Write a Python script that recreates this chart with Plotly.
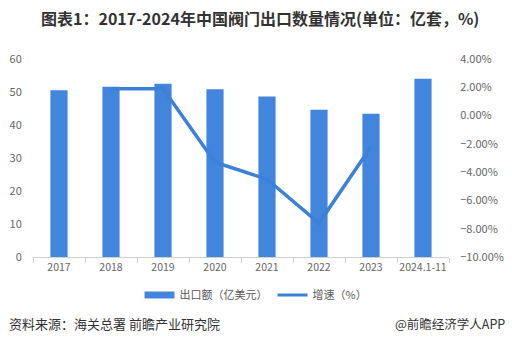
import plotly.graph_objects as go

categories = ["2017", "2018", "2019", "2020", "2021", "2022", "2023", "2024.1-11"]
export_volume = [50.5, 51.6, 52.5, 50.8, 48.6, 44.6, 43.4, 54.0]
growth_rate = [None, 1.9, 1.9, -3.3, -4.5, -7.6, -2.2, None]

bar_color = "#4285dc"
line_color = "#3d80d8"
font_cn = "Noto Sans CJK SC"

fig = go.Figure()
fig.add_trace(go.Bar(
    x=categories, y=export_volume, name="出口额（亿美元）",
    marker=dict(color=bar_color, line=dict(width=0)), width=0.33,
    showlegend=False, yaxis="y",
))
fig.add_trace(go.Scatter(
    x=categories, y=growth_rate, name="增速（%）", mode="lines",
    line=dict(color=line_color, width=3.5), yaxis="y2", showlegend=False,
    connectgaps=False,
))
# legend entries
fig.add_trace(go.Scatter(
    x=[None], y=[None], name="出口额（亿美元）", mode="lines",
    line=dict(color=bar_color, width=7), yaxis="y",
))
fig.add_trace(go.Scatter(
    x=[None], y=[None], name="增速（%）", mode="lines",
    line=dict(color=line_color, width=3), yaxis="y2",
))

tick_font = dict(family=font_cn, size=11, color="#666666")

fig.update_layout(
    width=512, height=351,
    margin=dict(l=33, r=63, t=59, b=94),
    paper_bgcolor="white", plot_bgcolor="white",
    font=dict(family=font_cn, color="#333333"),
    xaxis=dict(
        type="category", tickson="boundaries", ticks="outside", ticklen=5,
        tickcolor="#d0d0d0", showline=True, linecolor="#d0d0d0", linewidth=1,
        showgrid=False, tickfont=dict(family=font_cn, size=10.5, color="#666666"),
        range=[-0.5, 7.5], tickangle=0, automargin=False,
    ),
    yaxis=dict(
        range=[0, 60], dtick=10, showgrid=False, zeroline=False,
        ticks="outside", ticklen=8, tickcolor="rgba(0,0,0,0)",
        tickfont=tick_font, showline=False, automargin=False,
    ),
    yaxis2=dict(
        range=[-10, 4], dtick=2, overlaying="y", side="right",
        showgrid=False, zeroline=False, tickformat=".2f", ticksuffix="%",
        ticks="outside", ticklen=8, tickcolor="rgba(0,0,0,0)",
        tickfont=tick_font, showline=False, automargin=False,
    ),
    legend=dict(
        orientation="h", xref="container", x=0.5, xanchor="center",
        yref="container", y=(351 - 295) / 351, yanchor="middle",
        font=dict(family=font_cn, size=11, color="#595959"),
        traceorder="normal",
    ),
    bargap=0.67,
)

fig.add_annotation(
    text="<b>图表1：2017-2024年中国阀门出口数量情况(单位：亿套，%)</b>",
    xref="paper", yref="paper", x=(260 - 33) / 416, y=1 + (59 - 18) / 198,
    xanchor="center", yanchor="middle", showarrow=False,
    font=dict(family=font_cn, size=16, color="#333333"),
)
fig.add_annotation(
    text="资料来源：海关总署 前瞻产业研究院",
    xref="paper", yref="paper", x=-26 / 416, y=(257 - 323) / 198,
    xanchor="left", yanchor="middle", showarrow=False,
    font=dict(family=font_cn, size=13, color="#333333"),
)
fig.add_annotation(
    text="@前瞻经济学人APP",
    xref="paper", yref="paper", x=(507 - 33) / 416, y=(257 - 323) / 198,
    xanchor="right", yanchor="middle", showarrow=False,
    font=dict(family=font_cn, size=12.5, color="#333333"),
)

fig.write_html("out.html")
